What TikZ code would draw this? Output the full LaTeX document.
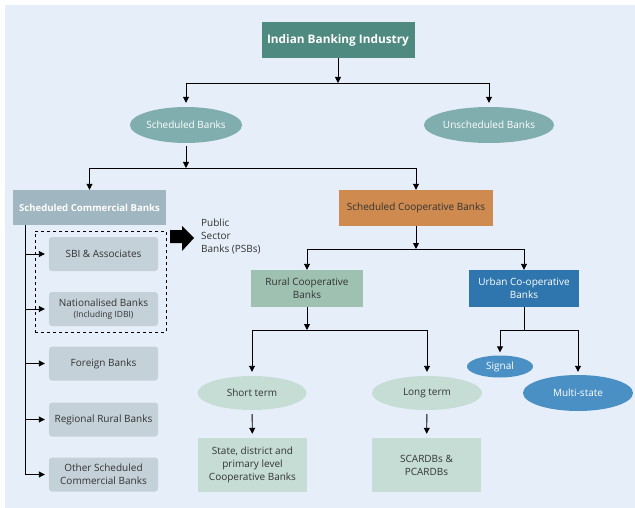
\documentclass[tikz,border=0pt]{standalone}
\usepackage{fontspec}
\setmainfont{Open Sans}
\usetikzlibrary{arrows.meta,shapes.geometric}
\definecolor{bgblue}{HTML}{E6EEF9}
\definecolor{tealbox}{HTML}{4F8A80}
\definecolor{tealoval}{HTML}{80AEAE}
\definecolor{grayblue}{HTML}{A0B6C0}
\definecolor{lightgray}{HTML}{C4D1D9}
\definecolor{orangebox}{HTML}{CE8A4F}
\definecolor{greenbox}{HTML}{9EC1B2}
\definecolor{paleg}{HTML}{C6DDD5}
\definecolor{urbanblue}{HTML}{2E76AD}
\definecolor{ovalblue}{HTML}{4A90C4}
\tikzset{
  box/.style={rectangle, inner sep=1pt, align=center, font=\fontsize{10}{13}\selectfont},
  oval/.style={ellipse, inner sep=0pt, align=center, font=\fontsize{10}{13}\selectfont},
  subbank/.style={box, rounded corners=3pt, fill=lightgray, minimum width=109pt, minimum height=34pt, text=black!80},
  arr/.style={-{Triangle[length=6pt,width=6pt]}, line width=0.9pt},
  ln/.style={line width=0.9pt},
}
\begin{document}
\begin{tikzpicture}[x=1pt,y=-1pt]
\useasboundingbox (0,0) rectangle (635,508);
\fill[bgblue] (5,5) rectangle (635,508);
% top levels
\node[box, fill=tealbox, text=white, font=\fontsize{11.8}{14}\selectfont\bfseries, minimum width=153pt, minimum height=36pt] (ibi) at (338,40) {Indian Banking Industry};
\node[oval, fill=tealoval, text=white, minimum width=111pt, minimum height=36pt] (sb) at (186,125) {Scheduled Banks};
\node[oval, fill=tealoval, text=white, minimum width=110pt, minimum height=36pt] (ub) at (489,125) {Unscheduled Banks};
\coordinate (j1) at (338,83);
\draw[arr] (ibi) -- (j1);
\draw[ln] (sb |- j1) -- (ub |- j1);
\draw[arr, shorten >=4pt] (sb |- j1) -- (sb);
\draw[arr, shorten >=4pt] (ub |- j1) -- (ub);
% commercial banks
\node[box, fill=grayblue, text=white, font=\fontsize{9.6}{12}\selectfont\bfseries, minimum width=153pt, minimum height=35pt] (scb) at (89.5,207.5) {Scheduled Commercial Banks};
\node[box, fill=orangebox, text=black!80, minimum width=154pt, minimum height=36pt] (scoop) at (416,208) {Scheduled Cooperative Banks};
\coordinate (j2) at (186,168);
\draw[arr, shorten <=3pt] (sb) -- (j2);
\draw[ln] (scb |- j2) -- (scoop |- j2);
\draw[arr] (scb |- j2) -- (scb);
\draw[arr] (scoop |- j2) -- (scoop);
\node[subbank] (sbi) at (103.5,254) {SBI \& Associates};
\node[subbank] (nat) at (103.5,309) {Nationalised Banks\\[-2pt]{\fontsize{8.5}{10}\selectfont (Including IDBI)}};
\node[subbank] (fb) at (103.5,363.5) {Foreign Banks};
\node[subbank] (rrb) at (103.5,419.5) {Regional Rural Banks};
\node[subbank] (osc) at (103.5,474.5) {Other Scheduled\\Commercial Banks};
\node[draw, dashed, line width=0.6pt, minimum width=131pt, minimum height=101pt] (psb) at (100.5,281.5) {};
\coordinate (trunk) at (25,0);
\draw[ln] (trunk |- scb.south) -- (trunk |- osc);
\foreach \b in {sbi,nat,fb,rrb,osc}
  \draw[arr, shorten >=4pt] (trunk |- \b) -- (\b);
% PSB arrow and label
\fill (170,230) -- (182,230) -- (182,226) -- (194,238) -- (182,251) -- (182,243) -- (170,243) -- cycle;
\node[box, align=left, anchor=west, text=black!80] (psblbl) at (200,236) {Public\\Sector\\Banks (PSBs)};
% cooperative banks
\node[box, fill=greenbox, text=black!80, minimum width=112pt, minimum height=37pt] (rcb) at (307,288.5) {Rural Cooperative\\Banks};
\node[box, fill=urbanblue, text=white, minimum width=110pt, minimum height=37pt] (ucb) at (524,288.5) {Urban Co-operative\\Banks};
\coordinate (j3) at (416,249);
\draw[arr] (scoop) -- (j3);
\draw[ln] (rcb |- j3) -- (ucb |- j3);
\draw[arr] (rcb |- j3) -- (rcb);
\draw[arr] (ucb |- j3) -- (ucb);
% rural branch
\node[oval, fill=paleg, text=black!80, minimum width=109pt, minimum height=34pt] (st) at (252,393) {Short term};
\node[oval, fill=paleg, text=black!80, minimum width=110pt, minimum height=34pt] (lt) at (427,393) {Long term};
\node[box, fill=paleg, text=black!80, minimum width=109pt, minimum height=54pt] (sdp) at (252.5,465) {State, district and\\primary level\\Cooperative Banks};
\node[box, fill=paleg, text=black!80, minimum width=109pt, minimum height=54pt] (scard) at (426.5,465) {SCARDBs \&\\PCARDBs};
\coordinate (j4) at (307,330);
\draw[arr] (rcb) -- (j4);
\draw[ln] (st |- j4) -- (lt |- j4);
\draw[arr, shorten >=4pt] (st |- j4) -- (st);
\draw[arr, shorten >=4pt] (lt |- j4) -- (lt);
\draw[arr, shorten <=4pt, shorten >=4pt] (st) -- (sdp);
\draw[arr, shorten <=4pt, shorten >=4pt] (lt) -- (scard);
% urban branch
\node[oval, fill=ovalblue, text=white, minimum width=66pt, minimum height=22pt] (sig) at (500,366.5) {Signal};
\node[oval, fill=ovalblue, text=white, minimum width=110pt, minimum height=36pt] (ms) at (578,393) {Multi-state};
\coordinate (j5) at (524,330);
\draw[ln] (ucb) -- (j5);
\draw[ln] (sig |- j5) -- (ms |- j5);
\draw[arr, shorten >=3pt] (sig |- j5) -- (sig);
\draw[arr, shorten >=3pt] (ms |- j5) -- (ms);
\end{tikzpicture}
\end{document}
